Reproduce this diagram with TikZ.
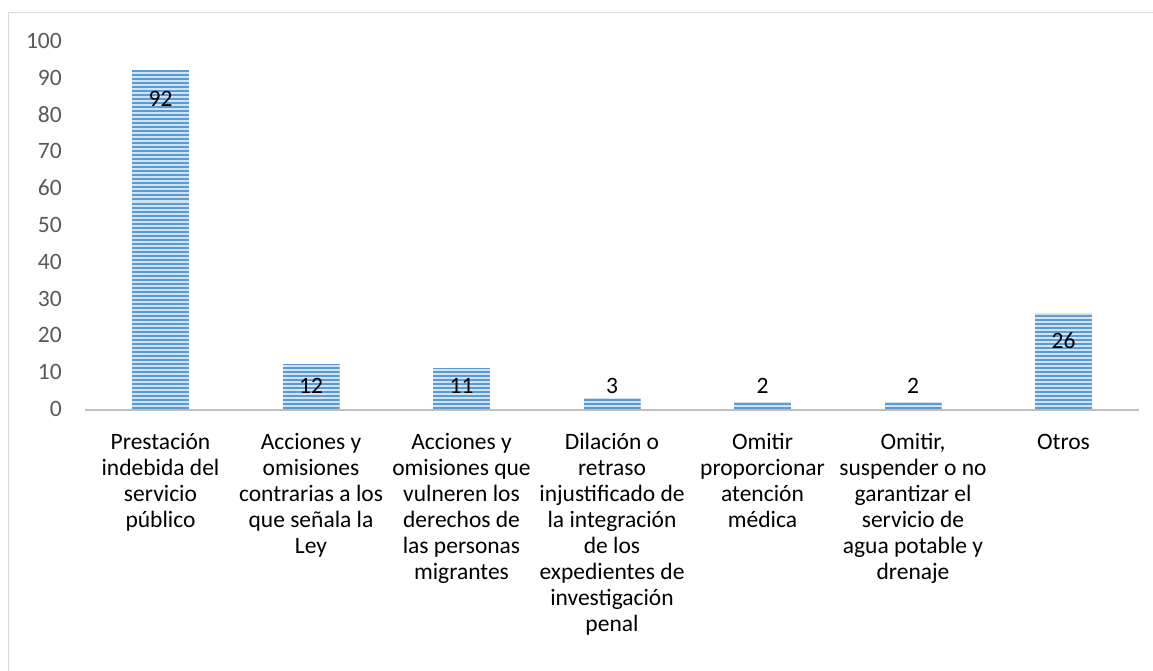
\documentclass[tikz,border=0pt]{standalone}
\usepackage{fontspec}
\setmainfont{Carlito}
\definecolor{framegray}{HTML}{D9D9D9}
\definecolor{axisgray}{HTML}{BFBFBF}
\definecolor{tickgray}{HTML}{595959}
\definecolor{barblue}{HTML}{5B9BD5}
\definecolor{barlight}{HTML}{D2E3F4}
\begin{document}
\begin{tikzpicture}[x=1pt,y=-1pt,
  tick/.style={font=\fontsize{23.5}{26}\selectfont, text=tickgray, anchor=base east, inner sep=0},
  val/.style={font=\fontsize{23.5}{26}\selectfont, anchor=base, inner sep=0},
  cat/.style={font=\fontsize{23.5}{26}\selectfont, align=center, anchor=north, inner sep=0},
  stripe/.style={barblue, line width=2pt}
]
\useasboundingbox (0,0) rectangle (1153,671);
\draw[framegray, line width=1.5pt] (1153,12.5) -- (8.5,12.5) -- (8.5,671);
% bars
\foreach \c/\v in {160.5/92, 311/12, 461.5/11, 612/3, 762.5/2, 913/2, 1063.5/26}{
  \pgfmathsetmacro\tp{409-3.68*\v}
  \fill[barlight] (\c-28.5,409) rectangle (\c+28.5,\tp);
  \begin{scope}
    \clip (\c-28.5,409) rectangle (\c+28.5,\tp);
    \foreach \k in {0,...,92}{
      \draw[stripe] (\c-28.5,407.5-4*\k) -- (\c+28.5,407.5-4*\k);
    }
  \end{scope}
}
% axis
\coordinate (axL) at (85,410);
\coordinate (axR) at (1139,410);
\draw[axisgray, line width=2.6pt] (axL) -- (axR);
% tick labels
\foreach \v in {0,10,...,100}{
  \node[tick] (t\v) at (62,416.5-3.68*\v) {\v};
}
% data labels
\node[val] (v1) at (160.5,107) {92};
\node[val] (v2) at (311,393) {12};
\node[val] (v3) at (461.5,393) {11};
\node[val] (v4) at (612,393) {3};
\node[val] (v5) at (762.5,393) {2};
\node[val] (v6) at (913,393) {2};
\node[val] (v7) at (1063.5,348) {26};
% category labels
\node[cat] (c1) at (160.5,430.8) {\strut Prestación\\indebida del\\servicio\\público};
\node[cat] (c2) at (311,430.8) {\strut Acciones y\\omisiones\\contrarias a los\\que señala la\\Ley};
\node[cat] (c3) at (461.5,430.8) {\strut Acciones y\\omisiones que\\vulneren los\\derechos de\\las personas\\migrantes};
\node[cat] (c4) at (612,430.8) {\strut Dilación o\\retraso\\injustificado de\\la integración\\de los\\expedientes de\\investigación\\penal};
\node[cat] (c5) at (762.5,430.8) {\strut Omitir\\proporcionar\\atención\\médica};
\node[cat] (c6) at (913,430.8) {\strut Omitir,\\suspender o no\\garantizar el\\servicio de\\agua potable y\\drenaje};
\node[cat] (c7) at (1063.5,430.8) {\strut Otros};
\end{tikzpicture}
\end{document}
